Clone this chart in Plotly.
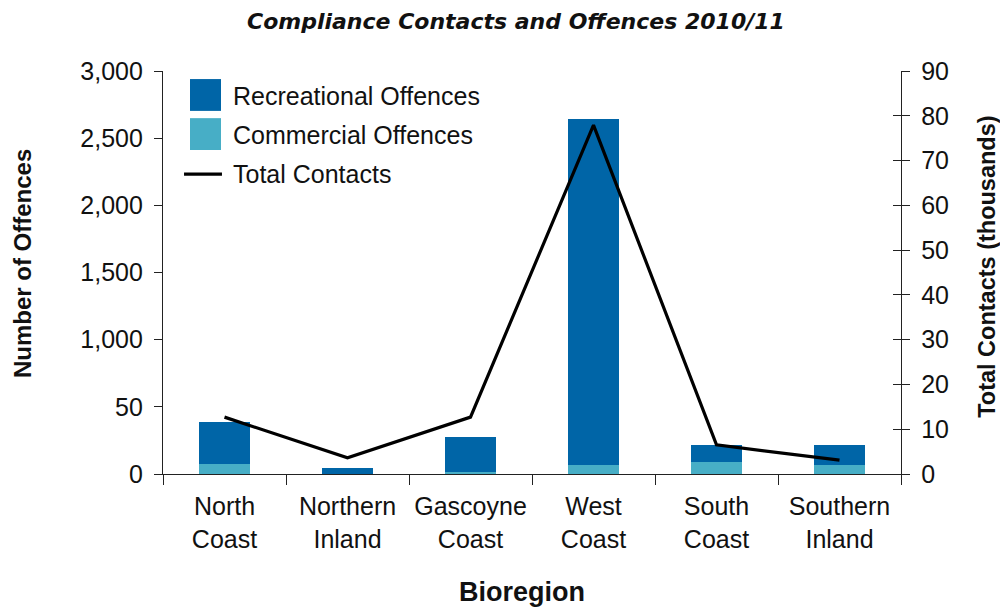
import plotly.graph_objects as go

# Bioregions along the x axis
regions = ["North<br>Coast", "Northern<br>Inland", "Gascoyne<br>Coast",
           "West<br>Coast", "South<br>Coast", "Southern<br>Inland"]

# Offences by sector (count) - stacked bars, left axis
commercial = [74, 2, 15, 67, 89, 67]
recreational = [313, 43, 260, 2576, 127, 149]

# Total compliance contacts (thousands) - line, right axis
contacts = [12.7, 3.6, 12.7, 77.9, 6.5, 3.1]

# Left axis ticks
left_tickvals = [0, 500, 1000, 1500, 2000, 2500, 3000]
left_ticktext = ["0", "50", "1,000", "1,500", "2,000", "2,500", "3,000"]
right_tickvals = [0, 10, 20, 30, 40, 50, 60, 70, 80, 90]

REC_COLOR = "#0065a7"
COM_COLOR = "#47aec6"
FONT = "Liberation Sans, Arial, sans-serif"

fig = go.Figure()
fig.add_trace(go.Bar(x=regions, y=commercial, name="Commercial Offences",
                     marker=dict(color=COM_COLOR, line=dict(width=0)), width=0.41))
fig.add_trace(go.Bar(x=regions, y=recreational, name="Recreational Offences",
                     marker=dict(color=REC_COLOR, line=dict(width=0)), width=0.41))
fig.add_trace(go.Scatter(x=regions, y=contacts, name="Total Contacts", yaxis="y2",
                         mode="lines", line=dict(color="black", width=3.2)))
# companion axis carrying the inner half of the right-hand ticks
fig.add_trace(go.Scatter(x=regions, y=contacts, yaxis="y3", mode="lines",
                         line=dict(width=0), hoverinfo="skip", showlegend=False))

fig.update_layout(
    width=1000, height=608,
    margin=dict(l=163, r=99, t=71, b=134),
    paper_bgcolor="white", plot_bgcolor="white",
    barmode="stack", showlegend=False,
    font=dict(family=FONT, color="#111111"),
    xaxis=dict(
        type="category", tickson="boundaries", ticks="outside", ticklen=10,
        tickwidth=1.3, tickcolor="#222", showline=True, linecolor="#222",
        linewidth=1.3, showgrid=False, tickfont=dict(size=25, family=FONT),
        ticklabelstandoff=10,
    ),
    yaxis=dict(
        range=[0, 3000], tickvals=left_tickvals, ticktext=left_ticktext,
        ticks="outside", ticklen=8, tickwidth=1.3, tickcolor="#222",
        showline=True, linecolor="#222", linewidth=1.3, showgrid=False,
        zeroline=False, tickfont=dict(size=25, family=FONT), ticklabelstandoff=6,
    ),
    yaxis2=dict(
        range=[0, 90], tickvals=right_tickvals, overlaying="y", side="right",
        ticks="outside", ticklen=8, tickwidth=1.3, tickcolor="#222",
        showline=True, linecolor="#222", linewidth=1.3, showgrid=False,
        zeroline=False, tickfont=dict(size=25, family=FONT), ticklabelstandoff=6,
    ),
    yaxis3=dict(
        range=[0, 90], tickvals=right_tickvals, overlaying="y", side="right",
        ticks="inside", ticklen=8, tickwidth=1.3, tickcolor="#222",
        showticklabels=False, showline=False, showgrid=False, zeroline=False,
    ),
)

# Legend drawn as swatches and labels inside the plot
swatches = [(REC_COLOR, 0.980, 0.901), (COM_COLOR, 0.883, 0.804)]
for color, y1, y0 in swatches:
    fig.add_shape(type="rect", xref="paper", yref="paper", x0=0.0366, x1=0.0786,
                  y0=y0, y1=y1, fillcolor=color, line=dict(width=0))
fig.add_shape(type="line", xref="paper", yref="paper", x0=0.0285, x1=0.0799,
              y0=0.744, y1=0.744, line=dict(color="black", width=3.2))
for label, y in [("Recreational Offences", 0.938), ("Commercial Offences", 0.841),
                 ("Total Contacts", 0.744)]:
    fig.add_annotation(text=label, xref="paper", yref="paper", x=0.0915, y=y,
                       xanchor="left", yanchor="middle", showarrow=False,
                       font=dict(size=25, family=FONT, color="#111111"))

# Titles
fig.add_annotation(text="<b><i>Compliance Contacts and Offences 2010/11</i></b>",
                   xref="paper", yref="paper", x=0.478, y=1.1216,
                   xanchor="center", yanchor="middle", showarrow=False,
                   font=dict(size=22, family="DejaVu Sans, sans-serif", color="#111"))
fig.add_annotation(text="<b>Number of Offences</b>", xref="paper", yref="paper",
                   x=-0.191, y=0.521, textangle=-90, xanchor="center",
                   yanchor="middle", showarrow=False,
                   font=dict(size=24, family=FONT, color="#111"))
fig.add_annotation(text="<b>Total Contacts (thousands)</b>", xref="paper", yref="paper",
                   x=1.1165, y=0.514, textangle=-90, xanchor="center",
                   yanchor="middle", showarrow=False,
                   font=dict(size=23.5, family=FONT, color="#111"))
fig.add_annotation(text="<b>Bioregion</b>", xref="paper", yref="paper",
                   x=0.486, y=-0.293, xanchor="center", yanchor="middle",
                   showarrow=False, font=dict(size=27, family=FONT, color="#111"))

fig.write_html("out.html")
